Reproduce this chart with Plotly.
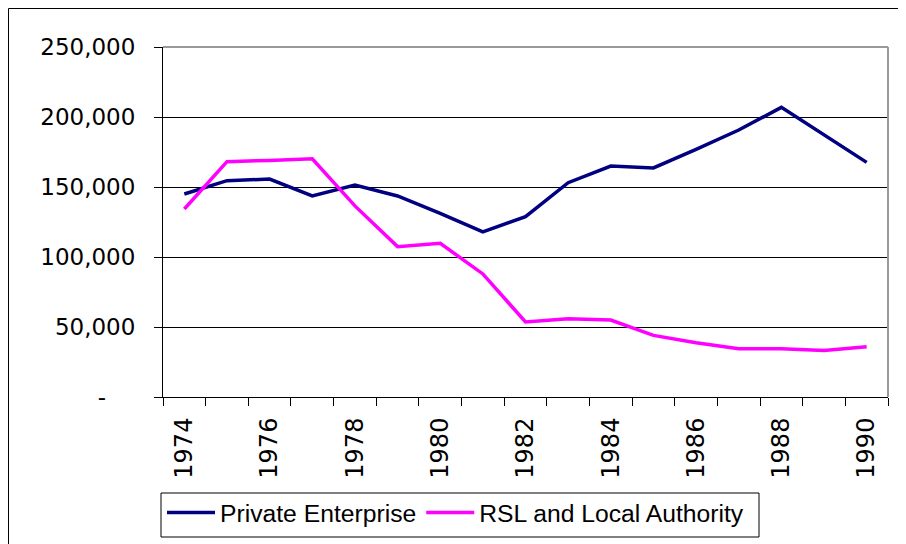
import plotly.graph_objects as go

years = [str(y) for y in range(1974, 1991)]
private_enterprise = [145000, 154500, 155700, 143600, 151400, 143600, 131200, 117900, 128800,
                      153100, 165000, 163600, 176900, 190700, 206900, 187600, 167600]
rsl_local_authority = [134300, 168100, 169000, 170200, 136500, 107400, 109800, 87900, 53600,
                       55900, 55000, 44000, 38800, 34500, 34500, 33300, 35900]
x_tick_labels = [y if int(y) % 2 == 0 else "" for y in years]
y_tick_values = [0, 50000, 100000, 150000, 200000, 250000]
y_tick_labels = ["-\u00a0\u00a0\u00a0\u00a0", "50,000", "100,000", "150,000", "200,000", "250,000"]
series_names = ["Private Enterprise", "RSL and Local Authority"]

NB = "\u00a0"
fig = go.Figure()
fig.add_trace(go.Scatter(x=years, y=private_enterprise, mode="lines",
                         name=series_names[0],
                         line=dict(color="#000080", width=3.5)))
fig.add_trace(go.Scatter(x=years, y=rsl_local_authority, mode="lines",
                         name=series_names[1],
                         line=dict(color="#FF00FF", width=3.5)))

# The page body has an 8px margin, so the figure starts at (8, 8) on screen.
OFF = 8
W, H = 906 - OFF, 544 - OFF
L = 163 - OFF
T = 47 - OFF
R = W - (888 - OFF)
B = H - (397 - OFF)
pw = W - L - R
ph = H - T - B


def px(xs):
    return (xs - OFF - L) / pw


def py(ys):
    return (H - B - (ys - OFF)) / ph


fig.update_layout(
    width=W, height=H,
    margin=dict(l=L, r=R, t=T, b=B, pad=0, autoexpand=False),
    paper_bgcolor="white", plot_bgcolor="white",
    font=dict(family="DejaVu Sans", color="black"),
    showlegend=True,
    legend=dict(orientation="h", x=px(162), y=py(490),
                xanchor="left", yanchor="top", itemwidth=48,
                borderwidth=0, bgcolor="rgba(0,0,0,0)",
                font=dict(family="Liberation Sans", size=24.7, color="black")),
    xaxis=dict(type="category", tickmode="array", tickvals=years, ticktext=x_tick_labels,
               range=[-0.5, len(years) - 0.5],
               tickson="boundaries", ticks="outside", ticklen=8, tickcolor="black",
               tickangle=-90, ticklabelstandoff=10, automargin=False,
               tickfont=dict(family="DejaVu Sans", size=24, color="black"),
               showline=True, linecolor="black", linewidth=1,
               showgrid=False, zeroline=False, fixedrange=True),
    yaxis=dict(range=[0, 250000], tickmode="array", tickvals=y_tick_values,
               ticktext=y_tick_labels, ticks="outside", ticklen=8, tickcolor="black",
               ticklabelstandoff=14, automargin=False,
               tickfont=dict(family="DejaVu Sans", size=23, color="black"),
               showline=True, linecolor="black", linewidth=1,
               showgrid=True, gridcolor="black", gridwidth=1,
               zeroline=False, fixedrange=True),
    shapes=[
        dict(type="line", xref="paper", yref="paper", x0=0, x1=1, y0=1, y1=1,
             line=dict(color="#999999", width=2), layer="above"),
        dict(type="line", xref="paper", yref="paper", x0=1, x1=1, y0=0, y1=1,
             line=dict(color="#999999", width=2), layer="above"),
        # outer chart border
        dict(type="rect", xref="paper", yref="paper",
             x0=px(8.5), x1=1.2, y0=-0.6, y1=py(8.5),
             line=dict(color="black", width=1), layer="below"),
        # legend frame
        dict(type="rect", xref="paper", yref="paper",
             x0=px(161), x1=px(759), y0=py(537), y1=py(493),
             line=dict(color="black", width=1), fillcolor="white", layer="below"),
    ],
)

fig.write_html("out.html")
